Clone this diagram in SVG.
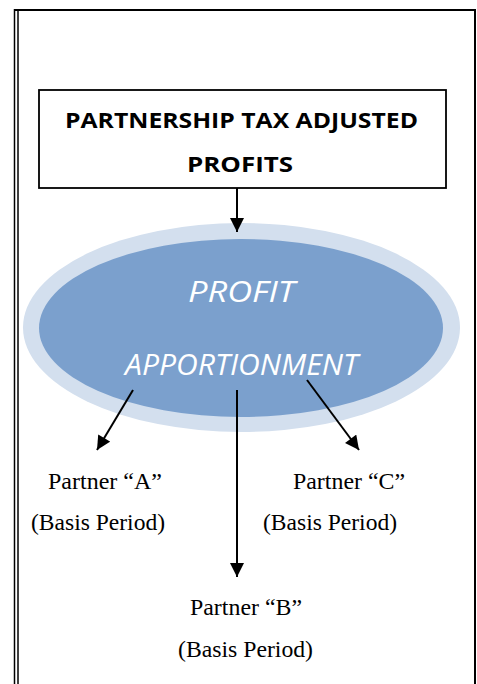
<svg xmlns="http://www.w3.org/2000/svg" width="477" height="684" viewBox="0 0 477 684">
<style>
.frame{stroke:#000;fill:none}
.conn{stroke:#000;stroke-width:2;fill:none}
.hdr{font-family:"Open Sans","Liberation Sans",sans-serif;font-weight:bold;font-size:21px;fill:#000}
.ell{font-family:"Open Sans","Liberation Sans",sans-serif;font-style:italic;font-size:30px;fill:#fff}
.lbl{font-family:"Liberation Serif","Times New Roman",serif;font-size:24px;fill:#000}
</style>
<defs>
<marker id="ah" viewBox="0 0 10 10" refX="10" refY="5" markerWidth="15" markerHeight="14" markerUnits="userSpaceOnUse" orient="auto">
<path d="M0,0 L10,5 L0,10 z" fill="#000"/>
</marker>
</defs>
<rect width="477" height="684" fill="#fff"/>
<g id="frame">
<line class="frame" x1="14.5" y1="9" x2="14.5" y2="684" stroke-width="1.5"/>
<line class="frame" x1="18" y1="10" x2="18" y2="684" stroke-width="1.5"/>
<line class="frame" x1="14" y1="10" x2="476" y2="10" stroke-width="2"/>
<line class="frame" x1="475" y1="9" x2="475" y2="684" stroke-width="2"/>
</g>
<g id="node-header">
<rect x="39" y="90" width="407" height="98" fill="#fff" stroke="#000" stroke-width="1.8"/>
<text class="hdr" x="65" y="128" textLength="353" lengthAdjust="spacingAndGlyphs">PARTNERSHIP TAX ADJUSTED</text>
<text class="hdr" x="187" y="172" textLength="106" lengthAdjust="spacingAndGlyphs">PROFITS</text>
</g>
<g id="node-apportionment">
<ellipse cx="241.5" cy="327.5" rx="218.5" ry="104.5" fill="#d3dfee"/>
<ellipse cx="241" cy="328" rx="202" ry="89" fill="#7ba0cd"/>
<text class="ell" x="188" y="302" textLength="107" lengthAdjust="spacingAndGlyphs">PROFIT</text>
<text class="ell" x="125" y="375" textLength="233" lengthAdjust="spacingAndGlyphs">APPORTIONMENT</text>
</g>
<g id="node-partner-a">
<text class="lbl" x="48" y="489" textLength="114" lengthAdjust="spacingAndGlyphs">Partner “A”</text>
<text class="lbl" x="31" y="530" textLength="134" lengthAdjust="spacingAndGlyphs">(Basis Period)</text>
</g>
<g id="node-partner-c">
<text class="lbl" x="293" y="489" textLength="112" lengthAdjust="spacingAndGlyphs">Partner “C”</text>
<text class="lbl" x="263" y="530" textLength="134" lengthAdjust="spacingAndGlyphs">(Basis Period)</text>
</g>
<g id="node-partner-b">
<text class="lbl" x="190" y="615" textLength="112" lengthAdjust="spacingAndGlyphs">Partner “B”</text>
<text class="lbl" x="178" y="657" textLength="135" lengthAdjust="spacingAndGlyphs">(Basis Period)</text>
</g>
<g id="connectors">
<line class="conn" x1="237" y1="188" x2="237" y2="232" marker-end="url(#ah)"/>
<line class="conn" x1="133" y1="390" x2="97" y2="450" marker-end="url(#ah)"/>
<line class="conn" x1="237" y1="390" x2="237" y2="577" marker-end="url(#ah)"/>
<line class="conn" x1="307" y1="380" x2="359" y2="450" marker-end="url(#ah)"/>
</g>
</svg>
